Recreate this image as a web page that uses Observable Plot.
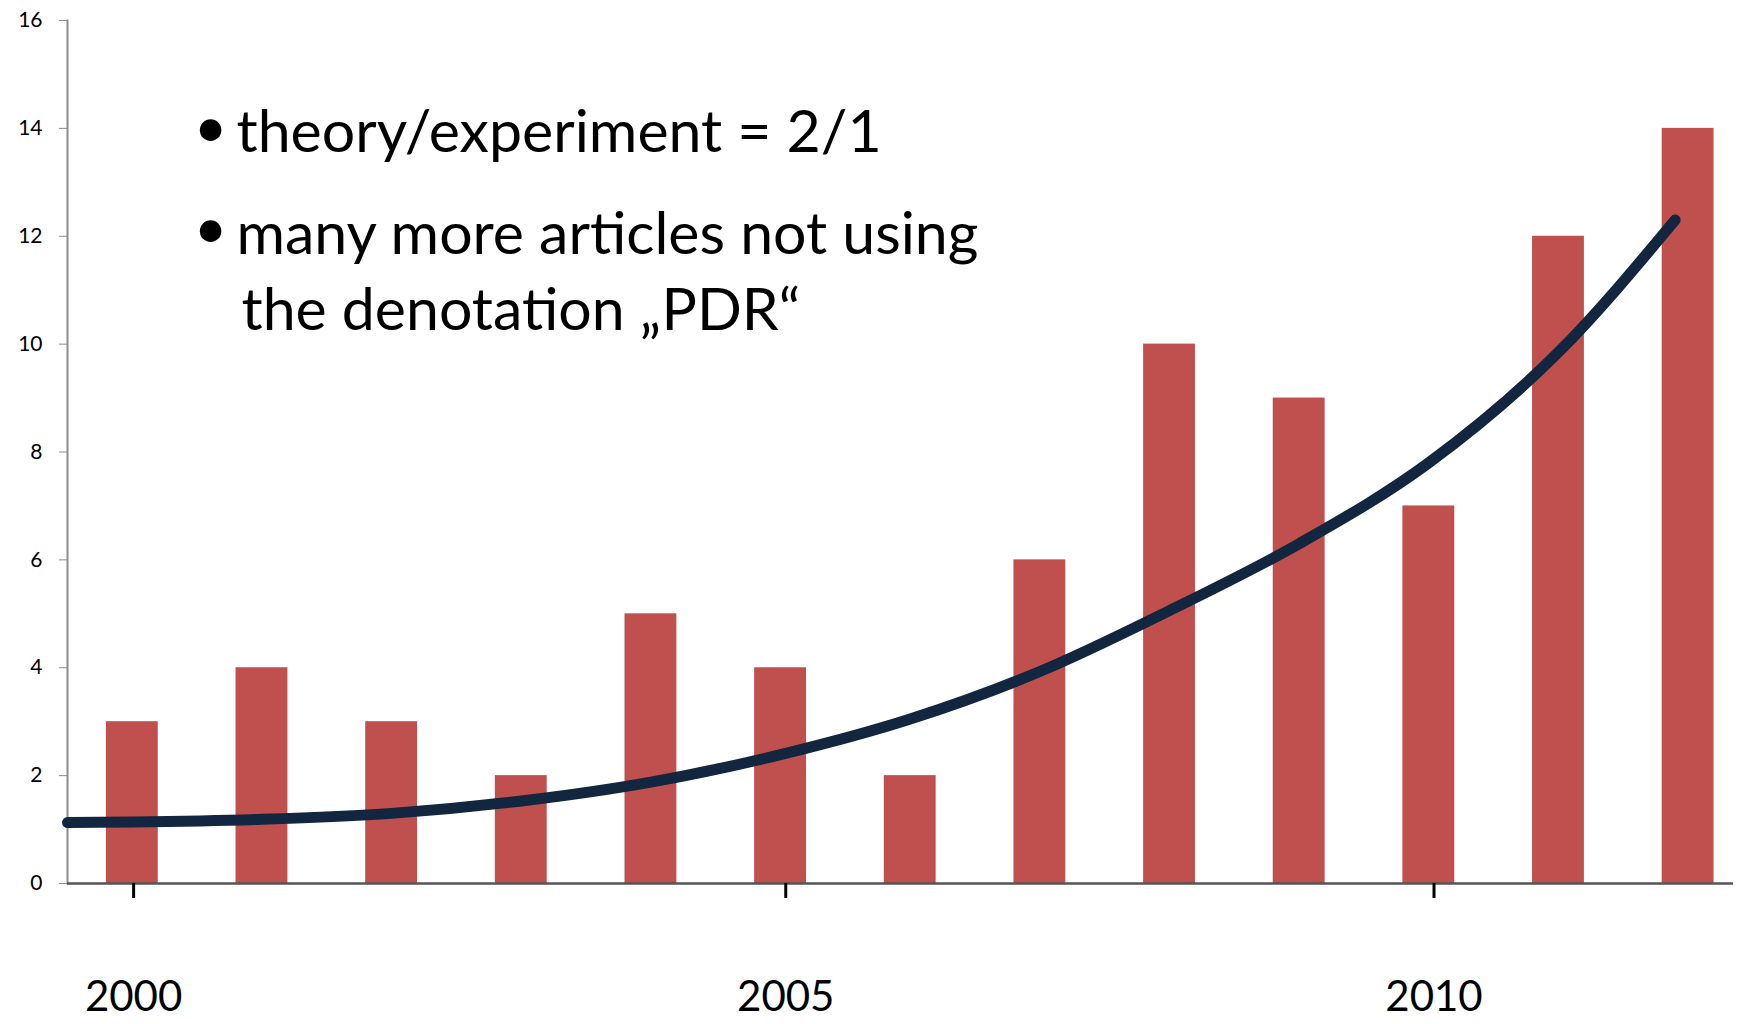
<!DOCTYPE html>
<html>
<head>
<meta charset="utf-8">
<script src="https://cdn.jsdelivr.net/npm/d3@7"></script>
<script src="https://cdn.jsdelivr.net/npm/@observablehq/plot@0.6"></script>
<style>
  html, body { margin: 0; padding: 0; background: #fff; }
  #chart svg { display: block; }
</style>
</head>
<body>
<div id="chart"></div>
<script>
// Publications per year (bars)
const years = [2000, 2001, 2002, 2003, 2004, 2005, 2006, 2007, 2008, 2009, 2010, 2011, 2012];
const counts = [3, 4, 3, 2, 5, 4, 2, 6, 10, 9, 7, 12, 14];

// Trend line
const trendYears = [1999.5, 2000, 2001, 2002, 2003, 2004, 2005, 2006, 2007, 2008, 2009, 2010, 2011, 2011.9];
const trendValues = [1.13, 1.14, 1.19, 1.30, 1.53, 1.88, 2.39, 3.05, 3.93, 5.06, 6.30, 7.80, 9.85, 12.3];

// Tick labels (x tick positions)
const xTickLabels = ["2000", "2005", "2010"];
const xTickPositions = [2000.01, 2005.04, 2010.04];
const yTicks = [0, 2, 4, 6, 8, 10, 12, 14, 16];

// Annotation text
const noteLines = ["theory/experiment = 2/1", "many more articles not using", "the denotation \u201EPDR\u201C"];
const noteBullets = ["\u2022", "\u2022"];

const bars = years.map((y, i) => ({year: y, count: counts[i]}));
const trend = trendYears.map((y, i) => ({year: y, value: trendValues[i]}));

const font = "Lato, 'Open Sans', sans-serif";

const chart = Plot.plot({
  width: 1739,
  height: 1024,
  marginLeft: 67,
  marginRight: 6,
  marginTop: 20,
  marginBottom: 141,
  style: {fontFamily: font, background: "#fff", color: "#000"},
  x: {domain: [1999.5, 2012.35], label: null},
  y: {domain: [0, 16], label: null},
  marks: [
    Plot.rectY(bars, {
      x1: d => d.year - 0.2,
      x2: d => d.year + 0.2,
      y: "count",
      fill: "#C0504D"
    }),
    Plot.frame({anchor: "left", stroke: "#8c8c8c", strokeWidth: 2}),
    Plot.axisY({
      ticks: yTicks,
      tickSize: 8,
      tickPadding: 17,
      stroke: "#8c8c8c",
      fill: "#000",
      fontSize: 21,
      tickFormat: d => String(d)
    }),
    Plot.ruleY([0], {stroke: "#555", strokeWidth: 2.5}),
    Plot.axisX({
      ticks: xTickPositions,
      tickSize: 15,
      tickPadding: 83,
      stroke: "#000",
      strokeWidth: 3,
      fill: "#000",
      fontSize: 42,
      tickFormat: d => xTickLabels[xTickPositions.indexOf(d)]
    }),
    Plot.line(trend, {
      x: "year",
      y: "value",
      stroke: "#132640",
      strokeWidth: 11,
      curve: "monotone-x"
    }),
    // annotation lines
    Plot.text([noteLines[0]], {frameAnchor: "top-left", text: d => d, textAnchor: "start", lineAnchor: "bottom", dx: 169, dy: 131, fontSize: 59, fill: "#000"}),
    Plot.text([noteLines[1]], {frameAnchor: "top-left", text: d => d, textAnchor: "start", lineAnchor: "bottom", dx: 169, dy: 233, fontSize: 59, fill: "#000"}),
    Plot.text([noteLines[2]], {frameAnchor: "top-left", text: d => d, textAnchor: "start", lineAnchor: "bottom", dx: 174, dy: 309, fontSize: 59, fill: "#000"}),
    Plot.text([noteBullets[0]], {frameAnchor: "top-left", text: d => d, textAnchor: "middle", lineAnchor: "middle", dx: 143, dy: 114, fontSize: 74, fill: "#000", fontFamily: "DejaVu Sans"}),
    Plot.text([noteBullets[1]], {frameAnchor: "top-left", text: d => d, textAnchor: "middle", lineAnchor: "middle", dx: 143, dy: 215, fontSize: 74, fill: "#000", fontFamily: "DejaVu Sans"})
  ]
});

document.getElementById("chart").appendChild(chart);
</script>
</body>
</html>
